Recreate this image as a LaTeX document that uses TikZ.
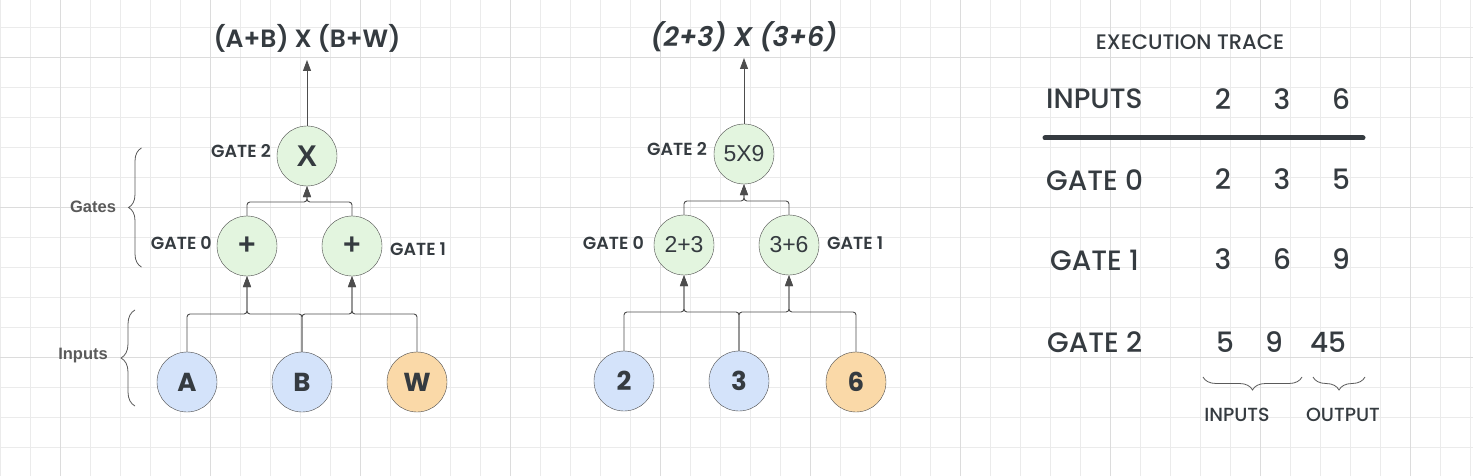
\documentclass[tikz,border=0pt]{standalone}
\usepackage{fontspec}
\setmainfont{Poppins}
\newfontfamily\helv{Liberation Sans}
\newfontfamily\handmed{Poppins Medium}
\newfontfamily\handsemi{Poppins SemiBold}[ItalicFont={Poppins SemiBold Italic}]
\usetikzlibrary{arrows.meta}
\usetikzlibrary{decorations.pathreplacing}
\definecolor{color_grid}{HTML}{EBEBEB}
\definecolor{color_grid_major}{HTML}{DCDCDC}
\definecolor{color_text}{HTML}{353B40}
\definecolor{color_stroke}{HTML}{4D4D4D}
\definecolor{color_gate}{HTML}{E3F5DF}
\definecolor{color_input}{HTML}{D4E3FA}
\definecolor{color_weight}{HTML}{FAD9A8}
\definecolor{color_side_label}{HTML}{5A5A5A}
\def\nodesize{60pt}
\def\wirewidth{0.9pt}
\def\tracefont{\handmed\fontsize{28}{28}\selectfont}
\tikzset{
    gatenode/.style={circle, draw=color_stroke, fill=color_gate, minimum size=\nodesize, inner sep=0pt, text=color_text, font=\helv\bfseries\fontsize{30}{30}\selectfont},
    valuenode/.style={gatenode, font=\helv\fontsize{23}{23}\selectfont},
    inputnode/.style={gatenode, fill=color_input, font=\bfseries\fontsize{26}{26}\selectfont},
    weightnode/.style={inputnode, fill=color_weight},
    gatelabel/.style={text=color_text, inner sep=0pt, font=\handsemi\fontsize{17.5}{17.5}\selectfont},
    exprtitle/.style={text=color_text, inner sep=0pt, font=\handsemi\fontsize{25}{25}\selectfont},
    sidelabel/.style={text=color_side_label, inner sep=0pt, font=\helv\bfseries\fontsize{16.5}{16.5}\selectfont},
    bracestyle/.style={draw=color_side_label, line width=0.8pt, decorate, decoration={brace, amplitude=#1}},
    wire/.style={draw=color_stroke, line width=\wirewidth, rounded corners=3pt, -{Triangle[length=11pt, width=8pt]}},
    tracecell/.style={text=color_text, inner sep=0pt, font=\tracefont},
    tracesmall/.style={text=color_text, inner sep=0pt, font=\handmed\fontsize{19}{19}\selectfont},
}

\begin{document}
\begin{tikzpicture}[x=1pt, y=-1pt]
        \fill[white] (0,0) rectangle (1473,476);
        \useasboundingbox (0,0) rectangle (1473,476);
        % background grid
        \foreach \x in {0,...,49}
            \draw[color_grid, line width=0.8pt] (0.7+30*\x,0) -- (0.7+30*\x,476);
        \foreach \y in {0,...,14}
            \draw[color_grid, line width=0.8pt] (0,27.3+30*\y) -- (1473,27.3+30*\y);
        \foreach \x in {0,...,9}
            \draw[color_grid_major, line width=0.8pt] (60.7+150*\x,0) -- (60.7+150*\x,476);
        \foreach \y in {0,1,2}
            \draw[color_grid_major, line width=0.8pt] (0,57.3+150*\y) -- (1473,57.3+150*\y);

        % symbolic circuit
        \node[exprtitle] (ltitle) at (307,38) {(A+B) X (B+W)};
        \node[gatenode] (lg2) at (307,156) {X};
        \node[gatenode] (lg0) at (247,246) {+};
        \node[gatenode] (lg1) at (352,246) {+};
        \node[inputnode] (la) at (187,382) {A};
        \node[inputnode] (lb) at (302,382) {B};
        \node[weightnode] (lw) at (417,382) {W};
        \node[gatelabel, anchor=east] (lgl2) at (271,151) {GATE 2};
        \node[gatelabel, anchor=east] (lgl0) at (212,243) {GATE 0};
        \node[gatelabel, anchor=west] (lgl1) at (390,249) {GATE 1};
        \coordinate (lout) at (307,60);
        \coordinate (lj2) at (307,202);
        \coordinate (lj0) at (247,314);
        \coordinate (lj1) at (352,314);
        \draw[wire] (lg2.north) -- (lout);
        \draw[wire] (lg0.north) |- (lj2) -- (lg2.south);
        \draw[wire] (lg1.north) |- (lj2) -- (lg2.south);
        \draw[wire] (la.north) |- (lj0) -- (lg0.south);
        \draw[wire] (lb.north) |- (lj0) -- (lg0.south);
        \draw[wire] (lb.north) |- (lj1) -- (lg1.south);
        \draw[wire] (lw.north) |- (lj1) -- (lg1.south);
        % side braces
        \node[sidelabel] (lgates) at (93,207) {Gates};
        \node[sidelabel] (linputs) at (83,356) {Inputs};
        \draw[bracestyle=13pt] (141.5,267) -- (141.5,148);
        \draw[bracestyle=14pt] (135,406) -- (135,310);

        % evaluated circuit
        \node[exprtitle, font=\handsemi\itshape\fontsize{27}{27}\selectfont] (mtitle) at (744,37) {(2+3) X (3+6)};
        \node[valuenode] (mg2) at (744,154) {5X9};
        \node[valuenode] (mg0) at (684,245) {2+3};
        \node[valuenode] (mg1) at (789,245) {3+6};
        \node[inputnode] (m2) at (624,381) {2};
        \node[inputnode] (m3) at (739,381) {3};
        \node[weightnode] (m6) at (856,382) {6};
        \node[gatelabel, anchor=east] (mgl2) at (707,149) {GATE 2};
        \node[gatelabel, anchor=east] (mgl0) at (644,243) {GATE 0};
        \node[gatelabel, anchor=west] (mgl1) at (827,243) {GATE 1};
        \coordinate (mout) at (744,58);
        \coordinate (mj2) at (744,201);
        \coordinate (mj0) at (684,312);
        \coordinate (mj1) at (789,312);
        \draw[wire] (mg2.north) -- (mout);
        \draw[wire] (mg0.north) |- (mj2) -- (mg2.south);
        \draw[wire] (mg1.north) |- (mj2) -- (mg2.south);
        \draw[wire] (m2.north) |- (mj0) -- (mg0.south);
        \draw[wire] (m3.north) |- (mj0) -- (mg0.south);
        \draw[wire] (m3.north) |- (mj1) -- (mg1.south);
        \draw[wire] (m6.north) |- (mj1) -- (mg1.south);

        % execution trace
        \node[tracesmall, font=\handmed\fontsize{21}{21}\selectfont] (trace) at (1190,42) {EXECUTION TRACE};
        \node[tracecell, anchor=west] (rin) at (1046,99) {INPUTS};
        \node[tracecell, anchor=west] (rg0) at (1046,180) {GATE 0};
        \node[tracecell, anchor=west] (rg1) at (1050,260) {GATE 1};
        \node[tracecell, anchor=west] (rg2) at (1047,342) {GATE 2};
        \draw[color_text, line width=5pt, line cap=round] (1045,138) -- (1363,138);
        \foreach \a/\b/\c [count=\i] in {2/3/6, 2/3/5, 3/6/9}{
            \node[tracecell] (c\i a) at (1223,19+80*\i) {\a};
            \node[tracecell] (c\i b) at (1282,19+80*\i) {\b};
            \node[tracecell] (c\i c) at (1341,19+80*\i) {\c};
        }
        \node[tracecell] (c4a) at (1225,342) {5};
        \node[tracecell] (c4b) at (1274,342) {9};
        \node[tracecell] (c4c) at (1328,342) {45};
        \draw[bracestyle=13pt] (1302,377) -- (1203,377);
        \draw[bracestyle=13pt] (1365,377) -- (1313,377);
        \node[tracesmall] (tin) at (1237,415) {INPUTS};
        \node[tracesmall] (tout) at (1343,415) {OUTPUT};
\end{tikzpicture}
\end{document}
